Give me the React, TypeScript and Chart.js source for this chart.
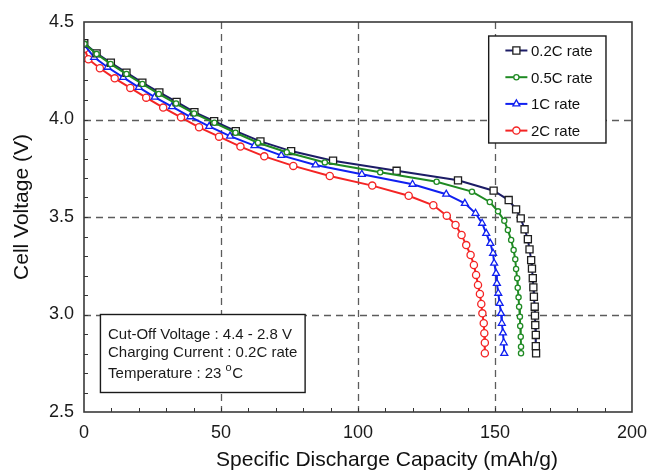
import { useEffect, useRef } from 'react';
import { Chart, registerables } from 'chart.js';

Chart.register(...registerables);

const FONT = '"Liberation Sans", Arial, Helvetica, sans-serif';

// Discharge curves: specific capacity (mAh/g) vs. cell voltage (V)
const seriesLabels = ['0.2C rate', '0.5C rate', '1C rate', '2C rate'];

const cap02 = [0.1, 4.6, 9.8, 15.5, 21.3, 27.5, 33.8, 40.3, 47.5, 55.4, 64.4, 75.6, 90.9, 114.1, 136.5, 149.5, 155.0, 157.7, 159.4, 160.8, 162.0, 162.6, 163.2, 163.5, 163.8, 164.0, 164.2, 164.5, 164.6, 164.7, 164.9, 164.9, 165.0];
const volt02 = [4.391, 4.339, 4.291, 4.240, 4.189, 4.139, 4.090, 4.038, 3.991, 3.940, 3.888, 3.838, 3.789, 3.737, 3.688, 3.635, 3.587, 3.539, 3.493, 3.437, 3.386, 3.334, 3.279, 3.235, 3.186, 3.139, 3.091, 3.040, 2.994, 2.946, 2.895, 2.838, 2.801];

const cap05 = [0.2, 4.6, 9.7, 15.5, 21.3, 27.3, 33.6, 40.2, 47.6, 55.3, 63.5, 74.0, 87.9, 108.1, 128.7, 141.6, 148.1, 151.1, 153.4, 154.7, 155.9, 156.8, 157.4, 157.7, 158.1, 158.3, 158.6, 158.8, 159.1, 159.2, 159.4, 159.5, 159.5];
const volt05 = [4.388, 4.336, 4.285, 4.233, 4.182, 4.131, 4.082, 4.031, 3.983, 3.932, 3.881, 3.832, 3.780, 3.729, 3.681, 3.630, 3.577, 3.529, 3.481, 3.433, 3.382, 3.331, 3.283, 3.233, 3.186, 3.137, 3.088, 3.040, 2.989, 2.941, 2.886, 2.835, 2.801];

const cap1 = [0.2, 3.7, 8.6, 14.3, 20.0, 25.8, 32.1, 38.8, 45.7, 53.3, 62.2, 72.0, 84.5, 101.4, 119.9, 132.2, 139.0, 142.9, 145.3, 146.8, 148.3, 149.3, 149.7, 150.4, 150.7, 151.2, 151.7, 152.2, 152.5, 152.9, 153.2, 153.4];
const volt1 = [4.382, 4.319, 4.268, 4.216, 4.165, 4.115, 4.066, 4.014, 3.965, 3.915, 3.866, 3.816, 3.767, 3.719, 3.668, 3.617, 3.570, 3.519, 3.468, 3.416, 3.365, 3.314, 3.263, 3.211, 3.160, 3.109, 3.057, 3.006, 2.955, 2.906, 2.855, 2.801];

const cap2 = [0.2, 1.6, 5.8, 11.2, 16.9, 22.7, 28.9, 35.4, 42.0, 49.3, 57.1, 65.8, 76.4, 89.7, 105.2, 118.5, 127.5, 132.4, 135.6, 137.8, 139.5, 141.1, 142.3, 143.1, 143.8, 144.5, 145.0, 145.4, 145.9, 146.1, 146.3, 146.3];
const volt2 = [4.363, 4.309, 4.263, 4.211, 4.162, 4.112, 4.061, 4.011, 3.960, 3.912, 3.861, 3.811, 3.762, 3.710, 3.661, 3.609, 3.560, 3.507, 3.459, 3.408, 3.356, 3.305, 3.254, 3.203, 3.151, 3.105, 3.054, 3.006, 2.955, 2.904, 2.855, 2.801];

const xTicks = [0, 50, 100, 150, 200];
const yTicks = [2.5, 3.0, 3.5, 4.0, 4.5];
const xMinorStep = 10;
const yMinorStep = 0.1;

const xTitle = 'Specific Discharge Capacity (mAh/g)';
const yTitle = 'Cell Voltage (V)';
const noteLines = ['Cut-Off Voltage : 4.4 - 2.8 V', 'Charging Current : 0.2C rate'];
const tempPrefix = 'Temperature : 23 ';
const tempDegree = 'o';
const tempUnit = 'C';

type Style = {
  line: string;
  marker: string;
  shape: 'rect' | 'circle' | 'triangle';
  radius: number;
};

const styles: Style[] = [
  { line: '#1c1c66', marker: '#1e1e1e', shape: 'rect', radius: 5 },
  { line: '#1f8a23', marker: '#1f8a23', shape: 'circle', radius: 2.6 },
  { line: '#1020f0', marker: '#1020f0', shape: 'triangle', radius: 4 },
  { line: '#f42424', marker: '#f42424', shape: 'circle', radius: 3.6 },
];

const seriesData = [
  [cap02, volt02],
  [cap05, volt05],
  [cap1, volt1],
  [cap2, volt2],
];

function drawMarker(ctx: CanvasRenderingContext2D, s: Style, x: number, y: number) {
  ctx.save();
  ctx.fillStyle = '#ffffff';
  ctx.strokeStyle = s.marker;
  ctx.lineWidth = 1.3;
  ctx.beginPath();
  if (s.shape === 'rect') {
    const h = s.radius * Math.SQRT1_2;
    ctx.rect(x - h, y - h, 2 * h, 2 * h);
  } else if (s.shape === 'circle') {
    ctx.arc(x, y, s.radius, 0, Math.PI * 2);
  } else {
    const r = s.radius;
    ctx.moveTo(x, y - r);
    ctx.lineTo(x + r * Math.cos(Math.PI / 6), y + r * 0.5);
    ctx.lineTo(x - r * Math.cos(Math.PI / 6), y + r * 0.5);
    ctx.closePath();
  }
  ctx.fill();
  ctx.stroke();
  ctx.restore();
}

const framePlugin = {
  id: 'frameDecor',
  beforeDatasetsDraw(chart: any) {
    const { ctx, chartArea: a, scales } = chart;
    const xs = scales.x;
    const ys = scales.y;
    ctx.save();
    // dashed grid at the major values inside the plot
    ctx.strokeStyle = '#5c5c5c';
    ctx.lineWidth = 1.3;
    ctx.setLineDash([7, 5]);
    xTicks.slice(1, -1).forEach((v) => {
      const px = Math.round(xs.getPixelForValue(v)) + 0.5;
      ctx.beginPath();
      ctx.moveTo(px, a.top);
      ctx.lineTo(px, a.bottom);
      ctx.stroke();
    });
    yTicks.slice(1, -1).forEach((v) => {
      const py = Math.round(ys.getPixelForValue(v)) + 0.5;
      ctx.beginPath();
      ctx.moveTo(a.left, py);
      ctx.lineTo(a.right, py);
      ctx.stroke();
    });
    ctx.setLineDash([]);
    // inward tick marks on the bottom and left axes
    ctx.strokeStyle = '#333333';
    ctx.lineWidth = 1;
    const nx = Math.round((xTicks[xTicks.length - 1] - xTicks[0]) / xMinorStep);
    for (let i = 1; i < nx; i++) {
      const px = Math.round(xs.getPixelForValue(xTicks[0] + i * xMinorStep)) + 0.5;
      ctx.beginPath();
      ctx.moveTo(px, a.bottom);
      ctx.lineTo(px, a.bottom - 4);
      ctx.stroke();
    }
    const ny = Math.round((yTicks[yTicks.length - 1] - yTicks[0]) / yMinorStep);
    for (let i = 1; i < ny; i++) {
      const py = Math.round(ys.getPixelForValue(yTicks[0] + i * yMinorStep)) + 0.5;
      ctx.beginPath();
      ctx.moveTo(a.left, py);
      ctx.lineTo(a.left + 4, py);
      ctx.stroke();
    }
    ctx.restore();
  },
  afterDatasetsDraw(chart: any) {
    const { ctx, chartArea: a, scales } = chart;
    const xs = scales.x;
    const ys = scales.y;
    ctx.save();

    // plot frame
    ctx.strokeStyle = '#3a3a3a';
    ctx.lineWidth = 1.6;
    ctx.strokeRect(a.left, a.top, a.right - a.left, a.bottom - a.top);

    // legend box
    const lx = a.right - 143.3;
    const ly = a.top + 14;
    ctx.fillStyle = '#ffffff';
    ctx.fillRect(lx, ly, 117.3, 107);
    ctx.strokeStyle = '#1a1a1a';
    ctx.lineWidth = 1.4;
    ctx.strokeRect(lx, ly, 117.3, 107);
    ctx.font = `15px ${FONT}`;
    ctx.textBaseline = 'alphabetic';
    ctx.textAlign = 'left';
    seriesLabels.forEach((label, i) => {
      const base = ly + 20 + i * 26.7;
      const cy = base - 5.5;
      const s = styles[i];
      ctx.strokeStyle = s.line;
      ctx.lineWidth = 2;
      ctx.beginPath();
      ctx.moveTo(lx + 16.7, cy);
      ctx.lineTo(lx + 38.7, cy);
      ctx.stroke();
      drawMarker(ctx, s, lx + 27.7, cy);
      ctx.fillStyle = '#111111';
      ctx.fillText(label, lx + 42.3, base);
    });

    // test-condition note box
    const nl = xs.getPixelForValue(6);
    const nr = xs.getPixelForValue(80.7);
    const nt = ys.getPixelForValue(3.0);
    const nb = ys.getPixelForValue(2.6);
    ctx.fillStyle = '#ffffff';
    ctx.fillRect(nl, nt, nr - nl, nb - nt);
    ctx.strokeStyle = '#1a1a1a';
    ctx.lineWidth = 1.4;
    ctx.strokeRect(nl, nt, nr - nl, nb - nt);
    ctx.fillStyle = '#1a1a1a';
    ctx.font = `15px ${FONT}`;
    const tx = nl + 7.6;
    ctx.fillText(noteLines[0], tx, nt + 24.3);
    ctx.fillText(noteLines[1], tx, nt + 42);
    const tBase = nt + 63;
    ctx.fillText(tempPrefix, tx, tBase);
    let cx = tx + ctx.measureText(tempPrefix).width;
    ctx.font = `11px ${FONT}`;
    ctx.fillText(tempDegree, cx, tBase - 6.5);
    cx += ctx.measureText(tempDegree).width + 0.5;
    ctx.font = `15px ${FONT}`;
    ctx.fillText(tempUnit, cx, tBase);

    // axis titles
    ctx.fillStyle = '#111111';
    ctx.font = `21px ${FONT}`;
    ctx.textAlign = 'center';
    ctx.fillText(xTitle, (a.left + a.right) / 2 + 29, 466);
    ctx.save();
    ctx.translate(28.3, (a.top + a.bottom) / 2 - 10);
    ctx.rotate(-Math.PI / 2);
    ctx.fillText(yTitle, 0, 0);
    ctx.restore();

    ctx.restore();
  },
};

export default function App() {
  const canvasRef = useRef<HTMLCanvasElement | null>(null);

  useEffect(() => {
    const canvas = canvasRef.current;
    if (!canvas) return;
    const datasets = seriesData.map(([xv, yv], i) => {
      const s = styles[i];
      return {
        label: seriesLabels[i],
        data: xv.map((x, j) => ({ x, y: yv[j] })),
        showLine: true,
        borderColor: s.line,
        borderWidth: 2,
        pointStyle: s.shape,
        pointRadius: s.radius,
        pointBorderColor: s.marker,
        pointBackgroundColor: '#ffffff',
        pointBorderWidth: 1.3,
        tension: 0,
        order: i === 1 ? 0 : i + 1,
      };
    });

    const chart = new Chart(canvas, {
      type: 'scatter',
      data: { datasets },
      options: {
        responsive: false,
        animation: false,
        layout: { padding: { top: 22, right: 21, left: 0, bottom: 0 } },
        plugins: {
          legend: { display: false },
          tooltip: { enabled: false },
        },
        scales: {
          x: {
            type: 'linear',
            min: xTicks[0],
            max: xTicks[xTicks.length - 1],
            afterBuildTicks: (s: any) => {
              s.ticks = xTicks.map((v) => ({ value: v }));
            },
            afterFit: (s: any) => {
              s.height = 58;
            },
            grid: { display: false, drawTicks: false },
            border: { display: false },
            ticks: {
              color: '#1a1a1a',
              padding: 10,
              maxRotation: 0,
              font: { family: FONT, size: 18 },
              callback: (v: any) => String(v),
            },
          },
          y: {
            type: 'linear',
            min: yTicks[0],
            max: yTicks[yTicks.length - 1],
            afterBuildTicks: (s: any) => {
              s.ticks = yTicks.map((v) => ({ value: v }));
            },
            afterFit: (s: any) => {
              s.width = 84;
            },
            grid: { display: false, drawTicks: false },
            border: { display: false },
            ticks: {
              color: '#1a1a1a',
              padding: 10,
              font: { family: FONT, size: 18 },
              callback: (v: any) => Number(v).toFixed(1),
            },
          },
        },
      },
      plugins: [framePlugin],
    } as any);

    return () => chart.destroy();
  }, []);

  return (
    <div style={{ position: 'absolute', left: 0, top: 0, width: 657, height: 470, background: '#ffffff' }}>
      <canvas ref={canvasRef} width={657} height={470} />
    </div>
  );
}
